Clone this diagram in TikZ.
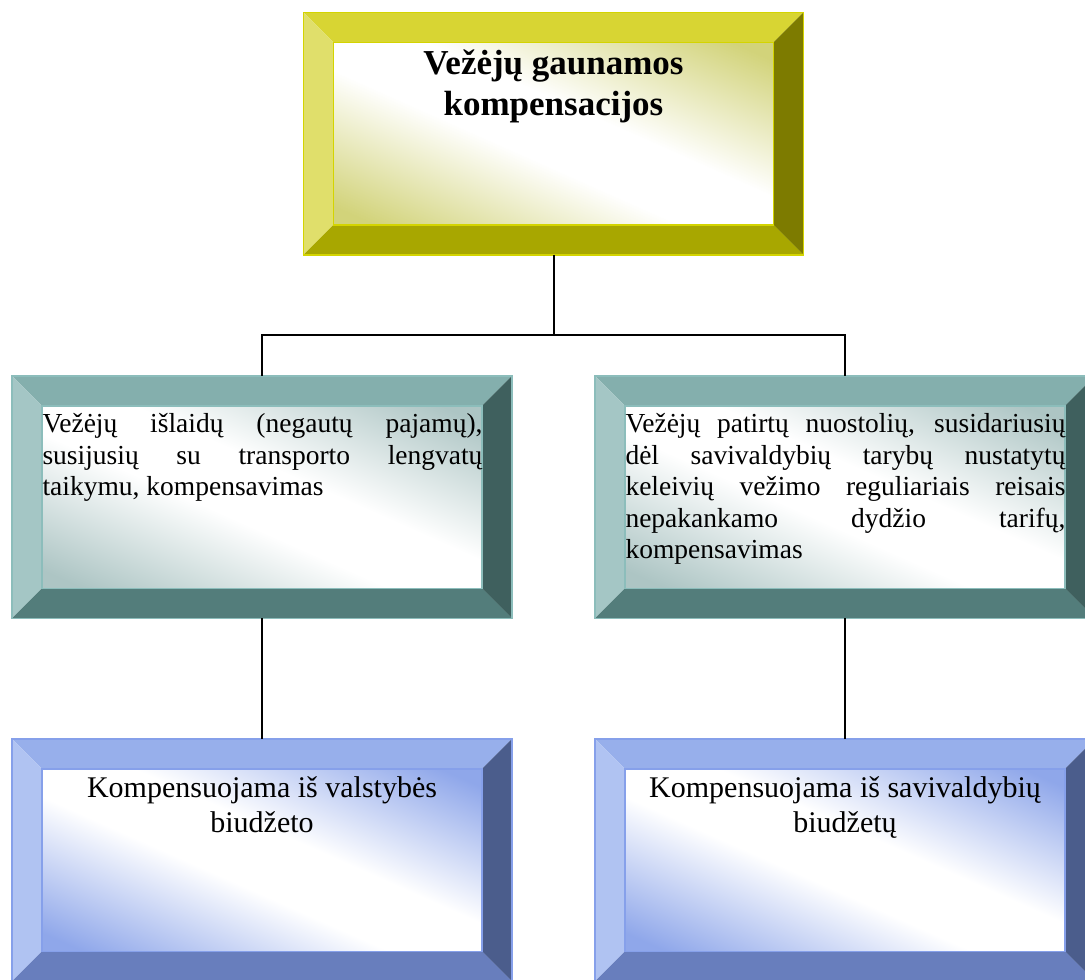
\documentclass[tikz,border=0pt]{standalone}
\usepackage{fontspec}
\setmainfont{Liberation Serif}
\hyphenpenalty=10000
\tolerance=10000
\definecolor{oltop}{HTML}{D8D533}
\definecolor{olleft}{HTML}{E0DF6B}
\definecolor{olright}{HTML}{7D7B00}
\definecolor{olbot}{HTML}{A8A700}
\definecolor{olline}{HTML}{D4D400}
\definecolor{olshade}{HTML}{D2D37A}
\definecolor{tltop}{HTML}{84AFAD}
\definecolor{tlleft}{HTML}{A4C6C5}
\definecolor{tlright}{HTML}{3F605E}
\definecolor{tlbot}{HTML}{537D7B}
\definecolor{tlline}{HTML}{8CBDBB}
\definecolor{tlshade}{HTML}{ADC5C4}
\definecolor{bltop}{HTML}{97AFEB}
\definecolor{blleft}{HTML}{B0C3F2}
\definecolor{blright}{HTML}{4B5D8C}
\definecolor{blbot}{HTML}{687EBD}
\definecolor{blline}{HTML}{86A0EA}
\definecolor{blshade}{HTML}{8FA7EA}
\pgfdeclareverticalshading{olglow}{100bp}{color(0bp)=(olshade); color(20bp)=(olshade); color(44bp)=(white); color(56bp)=(white); color(80bp)=(olshade); color(100bp)=(olshade)}
\pgfdeclareverticalshading{tlglow}{100bp}{color(0bp)=(tlshade); color(20bp)=(tlshade); color(44bp)=(white); color(56bp)=(white); color(80bp)=(tlshade); color(100bp)=(tlshade)}
\pgfdeclareverticalshading{blglow}{100bp}{color(0bp)=(blshade); color(20bp)=(blshade); color(44bp)=(white); color(56bp)=(white); color(80bp)=(blshade); color(100bp)=(blshade)}
\def\bevw{12pt}
\newcommand\bevframe[2]{%
  \fill[#2top] (#1.north west) -- (#1.north east) -- ([xshift=-\bevw,yshift=-\bevw]#1.north east) -- ([xshift=\bevw,yshift=-\bevw]#1.north west) -- cycle;
  \fill[#2left] (#1.north west) -- ([xshift=\bevw,yshift=-\bevw]#1.north west) -- ([xshift=\bevw,yshift=\bevw]#1.south west) -- (#1.south west) -- cycle;
  \fill[#2right] (#1.north east) -- ([xshift=-\bevw,yshift=-\bevw]#1.north east) -- ([xshift=-\bevw,yshift=\bevw]#1.south east) -- (#1.south east) -- cycle;
  \fill[#2bot] (#1.south west) -- ([xshift=\bevw,yshift=\bevw]#1.south west) -- ([xshift=-\bevw,yshift=\bevw]#1.south east) -- (#1.south east) -- cycle;
  \shade[shading=#2glow,shading angle=-24] ([xshift=\bevw,yshift=\bevw]#1.south west) rectangle ([xshift=-\bevw,yshift=-\bevw]#1.north east);
  \draw[#2line,line width=.6pt] (#1.south west) rectangle (#1.north east);
  \draw[#2line,line width=.6pt] ([xshift=\bevw,yshift=\bevw]#1.south west) rectangle ([xshift=-\bevw,yshift=-\bevw]#1.north east);
}
\begin{document}
\begin{tikzpicture}[
  frame/.style={rectangle,minimum width=200pt,minimum height=97pt,inner sep=0pt,outer sep=0pt},
  head/.style={font=\fontsize{14}{16.4}\selectfont\bfseries,align=center,inner sep=0pt,anchor=north},
  body/.style={font=\fontsize{11}{12.65}\selectfont,text width=176pt,align=justify,inner sep=0pt,anchor=north west},
  foot/.style={font=\fontsize{12}{14}\selectfont,align=center,inner sep=0pt,anchor=north},
  link/.style={line width=.8pt}]
\useasboundingbox (0,0) rectangle (434pt,-391.6pt);
\node[frame] (comp) at (221.4pt,-53.4pt) {};
\node[frame] (lengv) at (104.8pt,-198.8pt) {};
\node[frame] (tarif) at (338pt,-198.8pt) {};
\node[frame] (valst) at (104.8pt,-344pt) {};
\node[frame] (saviv) at (338pt,-344pt) {};
\bevframe{comp}{ol}
\bevframe{lengv}{tl}
\bevframe{tarif}{tl}
\bevframe{valst}{bl}
\bevframe{saviv}{bl}
\node[head] (compTxt) at ([yshift=-13.2pt]comp.north) {\strut Vežėjų gaunamos\\kompensacijos};
\node[body] (lengvTxt) at ([xshift=12pt,yshift=-13.6pt]lengv.north west) {\strut Vežėjų išlaidų (negautų pajamų),\linebreak susijusių su transporto lengvatų\linebreak taikymu, kompensavimas};
\node[body] (tarifTxt) at ([xshift=12pt,yshift=-13.6pt]tarif.north west) {\strut Vežėjų patirtų nuostolių, susidariusių\linebreak dėl savivaldybių tarybų nustatytų\linebreak keleivių vežimo reguliariais reisais\linebreak nepakankamo dydžio tarifų,\linebreak kompensavimas};
\node[foot] (valstTxt) at ([yshift=-13.5pt]valst.north) {\strut Kompensuojama iš valstybės\\biudžeto};
\node[foot] (savivTxt) at ([yshift=-13.5pt]saviv.north) {\strut Kompensuojama iš savivaldybių\\biudžetų};
\coordinate (fork) at (221.4pt,-134pt);
\draw[link] (comp.south) -- (fork);
\draw[link] (fork) -| (lengv.north);
\draw[link] (fork) -| (tarif.north);
\draw[link] (lengv.south) -- (valst.north);
\draw[link] (tarif.south) -- (saviv.north);
\end{tikzpicture}
\end{document}
